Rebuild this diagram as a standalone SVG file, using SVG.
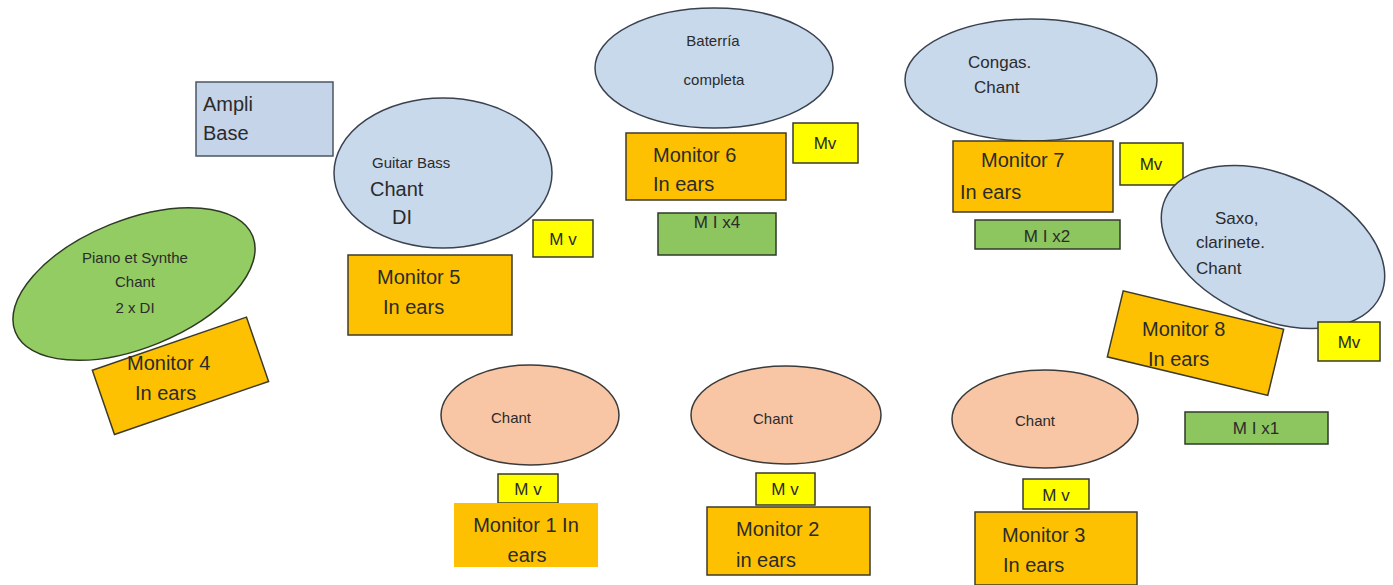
<svg xmlns="http://www.w3.org/2000/svg" width="1393" height="585" viewBox="0 0 1393 585">
<style>
text{font-family:"Liberation Sans",Arial,sans-serif;fill:#2b2b2b}
.s{font-size:15px}.m{font-size:17px}.l{font-size:20px}
.blue{fill:#c9d9ec;stroke:#3a4250;stroke-width:1.5}
.peach{fill:#f8c6a4;stroke:#3a3a3a;stroke-width:1.5}
.pgreen{fill:#93cc62;stroke:#2e3a24;stroke-width:1.5}
.mon{fill:#fdc102;stroke:#3e3a2a;stroke-width:1.5}
.mv{fill:#ffff00;stroke:#3a3a2a;stroke-width:1.5}
.mi{fill:#8dc65f;stroke:#2f3a2a;stroke-width:1.5}
.amp{fill:#c5d4e8;stroke:#4a5566;stroke-width:1.5}
</style>
<rect width="1393" height="585" fill="#ffffff"/>
<g id="connectors"/>
<g id="ampli-base"><rect class="amp" x="196" y="82" width="137" height="74"/><text class="l" x="203" y="111">Ampli</text><text class="l" x="203" y="140">Base</text></g>
<g id="guitar-bass"><ellipse class="blue" cx="443" cy="173" rx="109" ry="75"/><text class="s" x="372" y="168">Guitar Bass</text><text class="l" x="370" y="196">Chant</text><text class="l" x="392" y="224">DI</text></g>
<g id="mv-5"><rect class="mv" x="533" y="220" width="60" height="37"/><text class="m" x="563" y="245" text-anchor="middle">M v</text></g>
<g id="monitor-5"><rect class="mon" x="348" y="255" width="164" height="80"/><text class="l" x="377" y="284">Monitor 5</text><text class="l" x="383" y="314">In ears</text></g>
<g id="bateria"><ellipse class="blue" cx="714" cy="68" rx="119" ry="60"/><text class="s" x="713" y="46" text-anchor="middle">Baterría</text><text class="s" x="714" y="85" text-anchor="middle">completa</text></g>
<g id="monitor-6"><rect class="mon" x="626" y="133" width="160" height="67"/><text class="l" x="653" y="162">Monitor 6</text><text class="l" x="653" y="191">In ears</text></g>
<g id="mv-6"><rect class="mv" x="793" y="123" width="65" height="40"/><text class="m" x="825" y="149" text-anchor="middle">Mv</text></g>
<g id="mi-x4"><rect class="mi" x="658" y="213" width="118" height="42"/><text class="m" x="717" y="228" text-anchor="middle">M I x4</text></g>
<g id="congas"><ellipse class="blue" cx="1031" cy="80" rx="126" ry="61"/><text class="m" x="968" y="68">Congas.</text><text class="m" x="974" y="93">Chant</text></g>
<g id="monitor-7"><rect class="mon" x="953" y="141" width="160" height="71"/><text class="l" x="981" y="167">Monitor 7</text><text class="l" x="960" y="199">In ears</text></g>
<g id="mv-7"><rect class="mv" x="1120" y="143" width="63" height="42"/><text class="m" x="1151" y="170" text-anchor="middle">Mv</text></g>
<g id="mi-x2"><rect class="mi" x="975" y="220" width="145" height="29"/><text class="m" x="1047" y="242" text-anchor="middle">M I x2</text></g>
<g id="saxo"><ellipse class="blue" cx="1273" cy="247" rx="118" ry="72" transform="rotate(24 1273 247)"/><text class="m" x="1215" y="224">Saxo,</text><text class="m" x="1196" y="248">clarinete.</text><text class="m" x="1196" y="274">Chant</text></g>
<g id="monitor-8"><rect class="mon" x="1113" y="309" width="165" height="68" transform="rotate(13.5 1195 343)"/><text class="l" x="1142" y="336">Monitor 8</text><text class="l" x="1148" y="366">In ears</text></g>
<g id="mv-8"><rect class="mv" x="1318" y="322" width="62" height="39"/><text class="m" x="1349" y="348" text-anchor="middle">Mv</text></g>
<g id="mi-x1"><rect class="mi" x="1185" y="412" width="143" height="32"/><text class="m" x="1256" y="434" text-anchor="middle">M I x1</text></g>
<g id="piano"><ellipse class="pgreen" cx="134" cy="284" rx="128" ry="64" transform="rotate(-22 134 284)"/><text class="s" x="135" y="263" text-anchor="middle">Piano et Synthe</text><text class="s" x="135" y="287" text-anchor="middle">Chant</text><text class="s" x="135" y="313" text-anchor="middle">2 x DI</text></g>
<g id="monitor-4"><rect class="mon" x="99" y="342" width="163" height="68" transform="rotate(-19 180 376)"/><text class="l" x="127" y="370">Monitor 4</text><text class="l" x="135" y="400">In ears</text></g>
<g id="chant-1"><ellipse class="peach" cx="530" cy="415" rx="89" ry="50"/><text class="s" x="511" y="423" text-anchor="middle">Chant</text></g>
<g id="mv-1"><rect class="mv" x="498" y="474" width="60" height="29"/><text class="m" x="528" y="495" text-anchor="middle">M v</text></g>
<g id="monitor-1"><rect x="454" y="503" width="144" height="64" fill="#fdc102"/><text class="l" x="526" y="532" text-anchor="middle">Monitor 1 In</text><text class="l" x="527" y="562" text-anchor="middle">ears</text></g>
<g id="chant-2"><ellipse class="peach" cx="786" cy="415" rx="95" ry="49"/><text class="s" x="773" y="424" text-anchor="middle">Chant</text></g>
<g id="mv-2"><rect class="mv" x="756" y="473" width="59" height="32"/><text class="m" x="785" y="495" text-anchor="middle">M v</text></g>
<g id="monitor-2"><rect class="mon" x="707" y="507" width="163" height="68"/><text class="l" x="736" y="536">Monitor 2</text><text class="l" x="736" y="567">in ears</text></g>
<g id="chant-3"><ellipse class="peach" cx="1045" cy="419" rx="93" ry="49"/><text class="s" x="1035" y="426" text-anchor="middle">Chant</text></g>
<g id="mv-3"><rect class="mv" x="1023" y="479" width="66" height="30"/><text class="m" x="1056" y="501" text-anchor="middle">M v</text></g>
<g id="monitor-3"><rect class="mon" x="975" y="512" width="162" height="73"/><text class="l" x="1002" y="542">Monitor 3</text><text class="l" x="1003" y="572">In ears</text></g>
</svg>
